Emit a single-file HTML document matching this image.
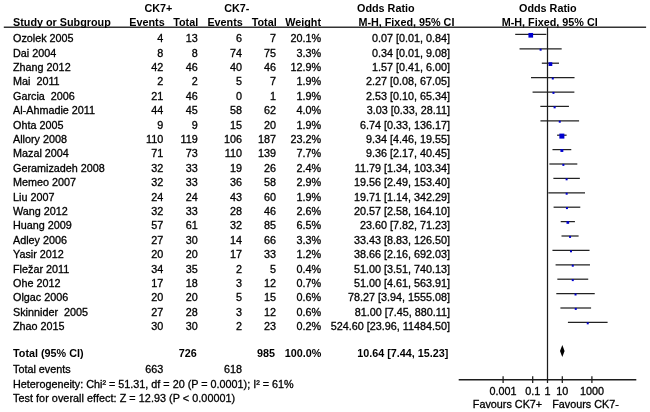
<!DOCTYPE html>
<html><head><meta charset="utf-8"><title>Forest plot</title>
<style>
html,body{margin:0;padding:0;background:#fff;}
#c{will-change:transform;position:relative;width:650px;height:412px;overflow:hidden;background:#fff;font-family:"Liberation Sans",sans-serif;font-size:10.8px;color:#000;}
.t{position:absolute;white-space:nowrap;line-height:14px;height:14px;-webkit-text-stroke:0.3px #000;}
.b{font-weight:bold;-webkit-text-stroke:0;}
svg{position:absolute;left:0;top:0;}
</style></head><body>
<div id="c">
<svg width="650" height="412" viewBox="0 0 650 412">
<line x1="515.20" y1="34.40" x2="546.34" y2="34.40" stroke="#222" stroke-width="1.25"/>
<rect x="528.44" y="32.97" width="4.66" height="4.66" fill="#0000d0"/>
<line x1="519.54" y1="48.80" x2="561.68" y2="48.80" stroke="#222" stroke-width="1.25"/>
<rect x="539.61" y="48.70" width="2.00" height="2.00" fill="#0000d0"/>
<line x1="541.82" y1="63.20" x2="559.01" y2="63.20" stroke="#222" stroke-width="1.25"/>
<rect x="548.55" y="62.23" width="3.74" height="3.74" fill="#0000d0"/>
<line x1="531.02" y1="77.60" x2="574.53" y2="77.60" stroke="#222" stroke-width="1.25"/>
<rect x="551.78" y="77.50" width="2.00" height="2.00" fill="#0000d0"/>
<line x1="532.56" y1="92.00" x2="574.37" y2="92.00" stroke="#222" stroke-width="1.25"/>
<rect x="552.46" y="91.90" width="2.00" height="2.00" fill="#0000d0"/>
<line x1="540.33" y1="106.40" x2="568.94" y2="106.40" stroke="#222" stroke-width="1.25"/>
<rect x="553.59" y="106.26" width="2.08" height="2.08" fill="#0000d0"/>
<line x1="540.45" y1="120.80" x2="579.08" y2="120.80" stroke="#222" stroke-width="1.25"/>
<rect x="558.77" y="120.70" width="2.00" height="2.00" fill="#0000d0"/>
<line x1="557.11" y1="135.20" x2="566.61" y2="135.20" stroke="#222" stroke-width="1.25"/>
<rect x="559.36" y="133.60" width="5.01" height="5.01" fill="#0000d0"/>
<line x1="552.47" y1="149.60" x2="571.28" y2="149.60" stroke="#222" stroke-width="1.25"/>
<rect x="560.43" y="149.06" width="2.89" height="2.89" fill="#0000d0"/>
<line x1="549.40" y1="164.00" x2="577.31" y2="164.00" stroke="#222" stroke-width="1.25"/>
<rect x="562.36" y="163.90" width="2.00" height="2.00" fill="#0000d0"/>
<line x1="553.37" y1="178.40" x2="579.85" y2="178.40" stroke="#222" stroke-width="1.25"/>
<rect x="565.61" y="178.30" width="2.00" height="2.00" fill="#0000d0"/>
<line x1="548.32" y1="192.80" x2="585.01" y2="192.80" stroke="#222" stroke-width="1.25"/>
<rect x="565.66" y="192.70" width="2.00" height="2.00" fill="#0000d0"/>
<line x1="553.59" y1="207.20" x2="580.28" y2="207.20" stroke="#222" stroke-width="1.25"/>
<rect x="565.94" y="207.10" width="2.00" height="2.00" fill="#0000d0"/>
<line x1="560.72" y1="221.60" x2="574.92" y2="221.60" stroke="#222" stroke-width="1.25"/>
<rect x="566.49" y="221.17" width="2.65" height="2.65" fill="#0000d0"/>
<line x1="561.50" y1="236.00" x2="578.61" y2="236.00" stroke="#222" stroke-width="1.25"/>
<rect x="569.06" y="235.90" width="2.00" height="2.00" fill="#0000d0"/>
<line x1="552.45" y1="250.40" x2="589.53" y2="250.40" stroke="#222" stroke-width="1.25"/>
<rect x="569.99" y="250.30" width="2.00" height="2.00" fill="#0000d0"/>
<line x1="555.58" y1="264.80" x2="589.97" y2="264.80" stroke="#222" stroke-width="1.25"/>
<rect x="571.77" y="264.70" width="2.00" height="2.00" fill="#0000d0"/>
<line x1="557.33" y1="279.20" x2="588.22" y2="279.20" stroke="#222" stroke-width="1.25"/>
<rect x="571.77" y="279.10" width="2.00" height="2.00" fill="#0000d0"/>
<line x1="556.31" y1="293.60" x2="594.74" y2="293.60" stroke="#222" stroke-width="1.25"/>
<rect x="574.53" y="293.50" width="2.00" height="2.00" fill="#0000d0"/>
<line x1="560.41" y1="308.00" x2="591.08" y2="308.00" stroke="#222" stroke-width="1.25"/>
<rect x="574.75" y="307.90" width="2.00" height="2.00" fill="#0000d0"/>
<line x1="567.92" y1="322.40" x2="607.59" y2="322.40" stroke="#222" stroke-width="1.25"/>
<rect x="586.75" y="322.30" width="2.00" height="2.00" fill="#0000d0"/>
<line x1="3.8" y1="27.2" x2="646.1" y2="27.2" stroke="#333" stroke-width="1.5"/>
<line x1="547.5" y1="27.2" x2="547.5" y2="383.05" stroke="#1c1c1c" stroke-width="1.25"/>
<line x1="458.70" y1="379.75" x2="636.30" y2="379.75" stroke="#1c1c1c" stroke-width="1.3"/>
<line x1="503.10" y1="376.25" x2="503.10" y2="383.05" stroke="#1c1c1c" stroke-width="1.25"/>
<line x1="532.70" y1="376.25" x2="532.70" y2="383.05" stroke="#1c1c1c" stroke-width="1.25"/>
<line x1="562.30" y1="376.25" x2="562.30" y2="383.05" stroke="#1c1c1c" stroke-width="1.25"/>
<line x1="591.90" y1="376.25" x2="591.90" y2="383.05" stroke="#1c1c1c" stroke-width="1.25"/>
<polygon points="560.00,351.00 562.30,344.90 564.60,351.00 562.30,357.10" fill="#000"/>
</svg>
<span class="t b" style="top:1.43px;left:8.40px;width:300px;text-align:center;">CK7+</span>
<span class="t b" style="top:1.43px;left:86.80px;width:300px;text-align:center;">CK7-</span>
<span class="t b" style="top:1.43px;left:357.00px;">Odds Ratio</span>
<span class="t b" style="top:1.43px;left:519.00px;">Odds Ratio</span>
<span class="t b" style="top:15.43px;left:13.00px;">Study or Subgroup</span>
<span class="t b" style="top:15.43px;right:485.30px;">Events</span>
<span class="t b" style="top:15.43px;right:451.80px;">Total</span>
<span class="t b" style="top:15.43px;right:407.20px;">Events</span>
<span class="t b" style="top:15.43px;right:373.30px;">Total</span>
<span class="t b" style="top:15.43px;right:329.00px;">Weight</span>
<span class="t b" style="top:15.43px;left:358.40px;">M-H, Fixed, 95% CI</span>
<span class="t b" style="top:15.43px;left:501.70px;">M-H, Fixed, 95% CI</span>
<span class="t" style="top:31.23px;left:13.00px;">Ozolek 2005</span>
<span class="t" style="top:31.23px;right:486.70px;">4</span>
<span class="t" style="top:31.23px;right:452.30px;">13</span>
<span class="t" style="top:31.23px;right:408.10px;">6</span>
<span class="t" style="top:31.23px;right:374.00px;">7</span>
<span class="t" style="top:31.23px;right:329.00px;">20.1%</span>
<span class="t" style="top:31.23px;right:200.00px;">0.07 [0.01, 0.84]</span>
<span class="t" style="top:45.63px;left:13.00px;">Dai 2004</span>
<span class="t" style="top:45.63px;right:486.70px;">8</span>
<span class="t" style="top:45.63px;right:452.30px;">8</span>
<span class="t" style="top:45.63px;right:408.10px;">74</span>
<span class="t" style="top:45.63px;right:374.00px;">75</span>
<span class="t" style="top:45.63px;right:329.00px;">3.3%</span>
<span class="t" style="top:45.63px;right:200.00px;">0.34 [0.01, 9.08]</span>
<span class="t" style="top:60.03px;left:13.00px;">Zhang 2012</span>
<span class="t" style="top:60.03px;right:486.70px;">42</span>
<span class="t" style="top:60.03px;right:452.30px;">46</span>
<span class="t" style="top:60.03px;right:408.10px;">40</span>
<span class="t" style="top:60.03px;right:374.00px;">46</span>
<span class="t" style="top:60.03px;right:329.00px;">12.9%</span>
<span class="t" style="top:60.03px;right:200.00px;">1.57 [0.41, 6.00]</span>
<span class="t" style="top:74.43px;left:13.00px;">Mai  2011</span>
<span class="t" style="top:74.43px;right:486.70px;">2</span>
<span class="t" style="top:74.43px;right:452.30px;">2</span>
<span class="t" style="top:74.43px;right:408.10px;">5</span>
<span class="t" style="top:74.43px;right:374.00px;">7</span>
<span class="t" style="top:74.43px;right:329.00px;">1.9%</span>
<span class="t" style="top:74.43px;right:200.00px;">2.27 [0.08, 67.05]</span>
<span class="t" style="top:88.83px;left:13.00px;">Garcia  2006</span>
<span class="t" style="top:88.83px;right:486.70px;">21</span>
<span class="t" style="top:88.83px;right:452.30px;">46</span>
<span class="t" style="top:88.83px;right:408.10px;">0</span>
<span class="t" style="top:88.83px;right:374.00px;">1</span>
<span class="t" style="top:88.83px;right:329.00px;">1.9%</span>
<span class="t" style="top:88.83px;right:200.00px;">2.53 [0.10, 65.34]</span>
<span class="t" style="top:103.23px;left:13.00px;">Al-Ahmadie 2011</span>
<span class="t" style="top:103.23px;right:486.70px;">44</span>
<span class="t" style="top:103.23px;right:452.30px;">45</span>
<span class="t" style="top:103.23px;right:408.10px;">58</span>
<span class="t" style="top:103.23px;right:374.00px;">62</span>
<span class="t" style="top:103.23px;right:329.00px;">4.0%</span>
<span class="t" style="top:103.23px;right:200.00px;">3.03 [0.33, 28.11]</span>
<span class="t" style="top:117.63px;left:13.00px;">Ohta 2005</span>
<span class="t" style="top:117.63px;right:486.70px;">9</span>
<span class="t" style="top:117.63px;right:452.30px;">9</span>
<span class="t" style="top:117.63px;right:408.10px;">15</span>
<span class="t" style="top:117.63px;right:374.00px;">20</span>
<span class="t" style="top:117.63px;right:329.00px;">1.9%</span>
<span class="t" style="top:117.63px;right:200.00px;">6.74 [0.33, 136.17]</span>
<span class="t" style="top:132.03px;left:13.00px;">Allory 2008</span>
<span class="t" style="top:132.03px;right:486.70px;">110</span>
<span class="t" style="top:132.03px;right:452.30px;">119</span>
<span class="t" style="top:132.03px;right:408.10px;">106</span>
<span class="t" style="top:132.03px;right:374.00px;">187</span>
<span class="t" style="top:132.03px;right:329.00px;">23.2%</span>
<span class="t" style="top:132.03px;right:200.00px;">9.34 [4.46, 19.55]</span>
<span class="t" style="top:146.43px;left:13.00px;">Mazal 2004</span>
<span class="t" style="top:146.43px;right:486.70px;">71</span>
<span class="t" style="top:146.43px;right:452.30px;">73</span>
<span class="t" style="top:146.43px;right:408.10px;">110</span>
<span class="t" style="top:146.43px;right:374.00px;">139</span>
<span class="t" style="top:146.43px;right:329.00px;">7.7%</span>
<span class="t" style="top:146.43px;right:200.00px;">9.36 [2.17, 40.45]</span>
<span class="t" style="top:160.83px;left:13.00px;">Geramizadeh 2008</span>
<span class="t" style="top:160.83px;right:486.70px;">32</span>
<span class="t" style="top:160.83px;right:452.30px;">33</span>
<span class="t" style="top:160.83px;right:408.10px;">19</span>
<span class="t" style="top:160.83px;right:374.00px;">26</span>
<span class="t" style="top:160.83px;right:329.00px;">2.4%</span>
<span class="t" style="top:160.83px;right:200.00px;">11.79 [1.34, 103.34]</span>
<span class="t" style="top:175.23px;left:13.00px;">Memeo 2007</span>
<span class="t" style="top:175.23px;right:486.70px;">32</span>
<span class="t" style="top:175.23px;right:452.30px;">33</span>
<span class="t" style="top:175.23px;right:408.10px;">36</span>
<span class="t" style="top:175.23px;right:374.00px;">58</span>
<span class="t" style="top:175.23px;right:329.00px;">2.9%</span>
<span class="t" style="top:175.23px;right:200.00px;">19.56 [2.49, 153.40]</span>
<span class="t" style="top:189.63px;left:13.00px;">Liu 2007</span>
<span class="t" style="top:189.63px;right:486.70px;">24</span>
<span class="t" style="top:189.63px;right:452.30px;">24</span>
<span class="t" style="top:189.63px;right:408.10px;">43</span>
<span class="t" style="top:189.63px;right:374.00px;">60</span>
<span class="t" style="top:189.63px;right:329.00px;">1.9%</span>
<span class="t" style="top:189.63px;right:200.00px;">19.71 [1.14, 342.29]</span>
<span class="t" style="top:204.03px;left:13.00px;">Wang 2012</span>
<span class="t" style="top:204.03px;right:486.70px;">32</span>
<span class="t" style="top:204.03px;right:452.30px;">33</span>
<span class="t" style="top:204.03px;right:408.10px;">28</span>
<span class="t" style="top:204.03px;right:374.00px;">46</span>
<span class="t" style="top:204.03px;right:329.00px;">2.6%</span>
<span class="t" style="top:204.03px;right:200.00px;">20.57 [2.58, 164.10]</span>
<span class="t" style="top:218.43px;left:13.00px;">Huang 2009</span>
<span class="t" style="top:218.43px;right:486.70px;">57</span>
<span class="t" style="top:218.43px;right:452.30px;">61</span>
<span class="t" style="top:218.43px;right:408.10px;">32</span>
<span class="t" style="top:218.43px;right:374.00px;">85</span>
<span class="t" style="top:218.43px;right:329.00px;">6.5%</span>
<span class="t" style="top:218.43px;right:200.00px;">23.60 [7.82, 71.23]</span>
<span class="t" style="top:232.83px;left:13.00px;">Adley 2006</span>
<span class="t" style="top:232.83px;right:486.70px;">27</span>
<span class="t" style="top:232.83px;right:452.30px;">30</span>
<span class="t" style="top:232.83px;right:408.10px;">14</span>
<span class="t" style="top:232.83px;right:374.00px;">66</span>
<span class="t" style="top:232.83px;right:329.00px;">3.3%</span>
<span class="t" style="top:232.83px;right:200.00px;">33.43 [8.83, 126.50]</span>
<span class="t" style="top:247.23px;left:13.00px;">Yasir 2012</span>
<span class="t" style="top:247.23px;right:486.70px;">20</span>
<span class="t" style="top:247.23px;right:452.30px;">20</span>
<span class="t" style="top:247.23px;right:408.10px;">17</span>
<span class="t" style="top:247.23px;right:374.00px;">33</span>
<span class="t" style="top:247.23px;right:329.00px;">1.2%</span>
<span class="t" style="top:247.23px;right:200.00px;">38.66 [2.16, 692.03]</span>
<span class="t" style="top:261.63px;left:13.00px;">Fležar 2011</span>
<span class="t" style="top:261.63px;right:486.70px;">34</span>
<span class="t" style="top:261.63px;right:452.30px;">35</span>
<span class="t" style="top:261.63px;right:408.10px;">2</span>
<span class="t" style="top:261.63px;right:374.00px;">5</span>
<span class="t" style="top:261.63px;right:329.00px;">0.4%</span>
<span class="t" style="top:261.63px;right:200.00px;">51.00 [3.51, 740.13]</span>
<span class="t" style="top:276.03px;left:13.00px;">Ohe 2012</span>
<span class="t" style="top:276.03px;right:486.70px;">17</span>
<span class="t" style="top:276.03px;right:452.30px;">18</span>
<span class="t" style="top:276.03px;right:408.10px;">3</span>
<span class="t" style="top:276.03px;right:374.00px;">12</span>
<span class="t" style="top:276.03px;right:329.00px;">0.7%</span>
<span class="t" style="top:276.03px;right:200.00px;">51.00 [4.61, 563.91]</span>
<span class="t" style="top:290.43px;left:13.00px;">Olgac 2006</span>
<span class="t" style="top:290.43px;right:486.70px;">20</span>
<span class="t" style="top:290.43px;right:452.30px;">20</span>
<span class="t" style="top:290.43px;right:408.10px;">5</span>
<span class="t" style="top:290.43px;right:374.00px;">15</span>
<span class="t" style="top:290.43px;right:329.00px;">0.6%</span>
<span class="t" style="top:290.43px;right:200.00px;">78.27 [3.94, 1555.08]</span>
<span class="t" style="top:304.83px;left:13.00px;">Skinnider  2005</span>
<span class="t" style="top:304.83px;right:486.70px;">27</span>
<span class="t" style="top:304.83px;right:452.30px;">28</span>
<span class="t" style="top:304.83px;right:408.10px;">3</span>
<span class="t" style="top:304.83px;right:374.00px;">12</span>
<span class="t" style="top:304.83px;right:329.00px;">0.6%</span>
<span class="t" style="top:304.83px;right:200.00px;">81.00 [7.45, 880.11]</span>
<span class="t" style="top:319.23px;left:13.00px;">Zhao 2015</span>
<span class="t" style="top:319.23px;right:486.70px;">30</span>
<span class="t" style="top:319.23px;right:452.30px;">30</span>
<span class="t" style="top:319.23px;right:408.10px;">2</span>
<span class="t" style="top:319.23px;right:374.00px;">23</span>
<span class="t" style="top:319.23px;right:329.00px;">0.2%</span>
<span class="t" style="top:319.23px;right:200.00px;">524.60 [23.96, 11484.50]</span>
<span class="t b" style="top:346.13px;left:13.00px;">Total (95% CI)</span>
<span class="t b" style="top:346.13px;right:453.20px;">726</span>
<span class="t b" style="top:346.13px;right:375.00px;">985</span>
<span class="t b" style="top:346.13px;right:328.60px;">100.0%</span>
<span class="t b" style="top:346.13px;right:201.60px;">10.64 [7.44, 15.23]</span>
<span class="t" style="top:362.23px;left:13.00px;">Total events</span>
<span class="t" style="top:362.23px;right:486.70px;">663</span>
<span class="t" style="top:362.23px;right:408.10px;">618</span>
<span class="t" style="top:376.63px;left:13.00px;">Heterogeneity: Chi² = 51.31, df = 20 (P = 0.0001); I² = 61%</span>
<span class="t" style="top:390.93px;left:13.00px;letter-spacing:0.05px;">Test for overall effect: Z = 12.93 (P &lt; 0.00001)</span>
<span class="t" style="top:384.23px;left:353.10px;width:300px;text-align:center;">0.001</span>
<span class="t" style="top:384.23px;left:382.70px;width:300px;text-align:center;">0.1</span>
<span class="t" style="top:384.23px;left:397.50px;width:300px;text-align:center;">1</span>
<span class="t" style="top:384.23px;left:412.30px;width:300px;text-align:center;">10</span>
<span class="t" style="top:384.23px;left:441.90px;width:300px;text-align:center;">1000</span>
<span class="t" style="top:396.83px;left:357.50px;width:300px;text-align:center;">Favours CK7+</span>
<span class="t" style="top:396.83px;left:435.50px;width:300px;text-align:center;">Favours CK7-</span>
</div>
</body></html>
